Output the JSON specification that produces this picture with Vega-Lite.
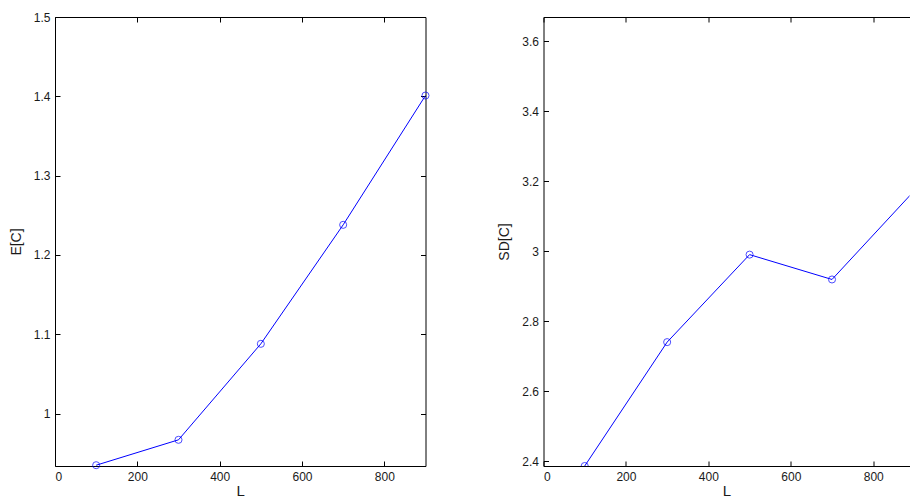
{
  "$schema": "https://vega.github.io/schema/vega-lite/v6.json",
  "padding": {"left": 9, "top": 11, "right": 0, "bottom": 0},
  "background": "white",
  "datasets": {
    "left": [
      {"L": 100, "EC": 0.935},
      {"L": 300, "EC": 0.967},
      {"L": 500, "EC": 1.088},
      {"L": 700, "EC": 1.238},
      {"L": 900, "EC": 1.401}
    ],
    "right": [
      {"L": 100, "SDC": 2.386},
      {"L": 300, "SDC": 2.74},
      {"L": 500, "SDC": 2.99},
      {"L": 700, "SDC": 2.919},
      {"L": 900, "SDC": 3.173}
    ]
  },
  "config": {
    "view": {"stroke": null},
    "font": "Liberation Sans",
    "axis": {
      "domainColor": "black",
      "tickColor": "black",
      "labelColor": "#1a1a1a",
      "titleColor": "#1a1a1a",
      "labelFontSize": 12,
      "titleFontSize": 14,
      "titleFontWeight": "normal",
      "grid": false,
      "tickSize": -5,
      "labelPadding": 10,
      "domainWidth": 1,
      "tickWidth": 1
    }
  },
  "spacing": 117.5,
  "bounds": "flush",
  "hconcat": [
    {
      "width": 370.5,
      "height": 449,
      "data": {"name": "left"},
      "layer": [
        {
          "mark": {"type": "line", "color": "#0000ff", "strokeWidth": 1},
          "encoding": {
            "x": {"field": "L", "type": "quantitative", "scale": {"domain": [0, 900], "nice": false},
                  "axis": {"values": [0, 200, 400, 600, 800], "title": "L", "titleFontSize": 15, "titlePadding": 1, "format": "d"}},
            "y": {"field": "EC", "type": "quantitative", "scale": {"domain": [0.934, 1.5], "nice": false, "zero": false},
                  "axis": {"values": [1, 1.1, 1.2, 1.3, 1.4, 1.5], "title": "E[C]", "format": "~g", "titlePadding": 10}}
          }
        },
        {
          "mark": {"type": "point", "shape": "circle", "color": "#0000ff", "size": 50, "strokeWidth": 1, "filled": false},
          "encoding": {
            "x": {"field": "L", "type": "quantitative", "scale": {"domain": [0, 900], "nice": false},
                  "axis": {"orient": "top", "labels": false, "title": null, "values": [0, 200, 400, 600, 800]}},
            "y": {"field": "EC", "type": "quantitative", "scale": {"domain": [0.934, 1.5], "nice": false, "zero": false},
                  "axis": {"orient": "right", "labels": false, "title": null, "values": [1, 1.1, 1.2, 1.3, 1.4, 1.5]}}
          }
        }
      ],
      "resolve": {"axis": {"x": "independent", "y": "independent"}}
    },
    {
      "width": 366,
      "height": 449,
      "data": {"name": "right"},
      "layer": [
        {
          "mark": {"type": "line", "color": "#0000ff", "strokeWidth": 1, "clip": true},
          "encoding": {
            "x": {"field": "L", "type": "quantitative", "scale": {"domain": [0, 888], "nice": false},
                  "axis": {"values": [0, 200, 400, 600, 800], "title": "L", "titleFontSize": 15, "titlePadding": 1, "format": "d"}},
            "y": {"field": "SDC", "type": "quantitative", "scale": {"domain": [2.386, 3.669], "nice": false, "zero": false},
                  "axis": {"values": [2.4, 2.6, 2.8, 3, 3.2, 3.4, 3.6], "title": "SD[C]", "format": "~g", "titlePadding": 10}}
          }
        },
        {
          "mark": {"type": "point", "shape": "circle", "color": "#0000ff", "size": 50, "strokeWidth": 1, "filled": false, "clip": true},
          "encoding": {
            "x": {"field": "L", "type": "quantitative", "scale": {"domain": [0, 888], "nice": false},
                  "axis": {"orient": "top", "labels": false, "title": null, "values": [0, 200, 400, 600, 800]}},
            "y": {"field": "SDC", "type": "quantitative", "scale": {"domain": [2.386, 3.669], "nice": false, "zero": false},
                  "axis": null}
          }
        }
      ],
      "resolve": {"axis": {"x": "independent", "y": "independent"}}
    }
  ]
}
